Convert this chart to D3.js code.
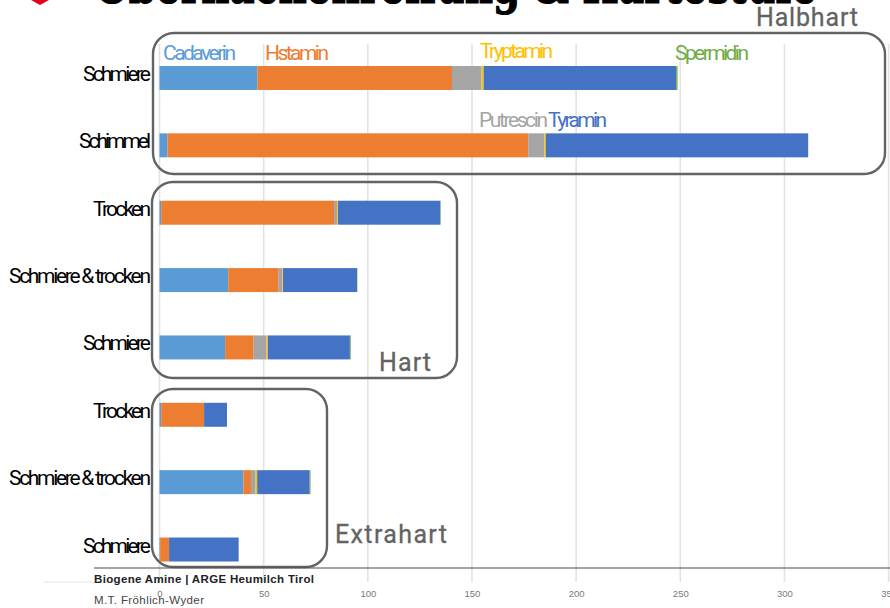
<!DOCTYPE html>
<html><head><meta charset="utf-8">
<script src="https://cdn.jsdelivr.net/npm/d3@7/dist/d3.min.js"></script>
<style>html,body{margin:0;padding:0;background:#fff;overflow:hidden}svg{display:block}</style>
</head><body><div id="chart"></div>
<script>
const categories = ["Schmiere","Schimmel","Trocken","Schmiere & trocken","Schmiere","Trocken","Schmiere & trocken","Schmiere"];
const seriesNames = ["Cadaverin","Histamin","Putrescin","Tryptamin","Tyramin","Spermidin"];
const cadaverin = [47,3.8,0.8,33,31.5,0.8,40.3,0.3];
const histamin  = [93.4,173.2,83,24.2,13.7,20.6,3.6,4.3];
const putrescin = [14.2,7.7,1.5,1.8,6.2,0,2.2,0];
const tryptamin = [1,0.7,0.4,0.3,0.6,0,0.8,0];
const tyramin   = [92.4,126,49,35.5,39.4,11,25.2,33.4];
const spermidin = [0.7,0,0.3,0.2,0.4,0,0.4,0];
const tickValues = [0,50,100,150,200,250,300,350];
const colors = ["#5b9bd5","#ed7d31","#a5a5a5","#ffc000","#4472c4","#70ad47"];

const svg = d3.select("#chart").append("svg").attr("width",890).attr("height",608);
const x = d3.scaleLinear().domain([0,350]).range([159.5,888.6]);
const y = d3.scaleBand().domain(d3.range(categories.length)).range([44.3,583.2]).paddingInner(0.644).paddingOuter(0.322);
const din = "Roboto, 'Noto Sans', sans-serif";

// title, clipped by the top edge
svg.append("path").attr("d","M31 0H49L40 5Z").attr("fill","#e2001a");
svg.append("text").attr("x",95).attr("y",3).attr("textLength",722).attr("lengthAdjust","spacingAndGlyphs")
  .attr("font-family","'DejaVu Serif'").attr("font-weight",700).attr("font-size",50).attr("stroke","#000").attr("stroke-width",1.2)
  .attr("fill","#000").text("Oberflächenreifung & Härtestufe");

// gridlines and axis
svg.append("g").selectAll("line").data(tickValues).join("line")
  .attr("x1",d=>x(d)).attr("x2",d=>x(d)).attr("y1",44).attr("y2",582)
  .attr("stroke","#e2e2e2").attr("stroke-width",1.6);
svg.append("line").attr("x1",44).attr("x2",160).attr("y1",582).attr("y2",582).attr("stroke","#e4e4e4").attr("stroke-width",1);
const axis = svg.append("g").attr("transform","translate(0,586)").call(d3.axisBottom(x).tickValues(tickValues).tickSize(0).tickPadding(4));
axis.select(".domain").remove();
axis.selectAll("text").attr("font-family","'Liberation Sans'").attr("font-size",9.5).attr("fill","#7a7a7a");

// stacked bars
const table = categories.map((c,i)=>({i,Cadaverin:cadaverin[i],Histamin:histamin[i],Putrescin:putrescin[i],Tryptamin:tryptamin[i],Tyramin:tyramin[i],Spermidin:spermidin[i]}));
const stack = d3.stack().keys(seriesNames)(table);
svg.append("g").selectAll("g").data(stack).join("g").attr("fill",(d,i)=>colors[i])
  .selectAll("rect").data(d=>d).join("rect")
  .attr("x",d=>x(d[0])).attr("width",d=>x(d[1])-x(d[0]))
  .attr("y",d=>y(d.data.i)).attr("height",y.bandwidth());

// category labels
const widths = {"Schmiere":68,"Schimmel":72,"Trocken":58,"Schmiere & trocken":142};
svg.append("g").selectAll("text").data(categories).join("text")
  .attr("x",151).attr("y",(d,i)=>y(i)+y.bandwidth()/2+3)
  .attr("text-anchor","end").attr("font-family",din).attr("font-size",21).attr("fill","#000")
  .attr("textLength",d=>widths[d]).attr("lengthAdjust","spacing").text(d=>d);

// series labels
const seriesLabels = [["Cadaverin",163,60,73,0],["Hstamin",265,60,64,1],["Tryptamin",480,58,73,3],["Spermidin",675,60,74,5],["Putrescin",479,127,69,2],["Tyramin",548,127,59,4]];
svg.append("g").selectAll("text").data(seriesLabels).join("text")
  .attr("x",d=>d[1]).attr("y",d=>d[2]).attr("fill",d=>colors[d[4]])
  .attr("font-family",din).attr("font-size",21)
  .attr("textLength",d=>d[3]).attr("lengthAdjust","spacing").text(d=>d[0]);

// group boxes
const boxes = [[153,33,732,141,"Halbhart",756,26,102],[152,182,305,196,"Hart",379,371,52],[152,389,175,178,"Extrahart",335,543,112]];
svg.append("g").selectAll("rect").data(boxes).join("rect")
  .attr("x",d=>d[0]).attr("y",d=>d[1]).attr("width",d=>d[2]).attr("height",d=>d[3]).attr("rx",21)
  .attr("fill","none").attr("stroke","#636363").attr("stroke-width",2.4);
svg.append("g").selectAll("text").data(boxes).join("text")
  .attr("x",d=>d[5]).attr("y",d=>d[6]).attr("font-family",din).attr("font-size",25).attr("fill","#636363")
  .attr("stroke","#636363").attr("stroke-width",0.3)
  .attr("textLength",d=>d[7]).attr("lengthAdjust","spacing").text(d=>d[4]);

// footer
svg.append("line").attr("x1",94).attr("x2",890).attr("y1",568).attr("y2",568).attr("stroke","#4d4d4d").attr("stroke-width",1.2);
svg.append("text").attr("x",94).attr("y",583).attr("font-family","'Liberation Sans'").attr("font-weight",700).attr("font-size",11.5).attr("fill","#222")
  .attr("textLength",220).text("Biogene Amine | ARGE Heumilch Tirol");
svg.append("text").attr("x",94).attr("y",604).attr("font-family","'Liberation Sans'").attr("font-size",11.5).attr("fill","#444")
  .attr("textLength",110).text("M.T. Fröhlich-Wyder");
</script></body></html>
